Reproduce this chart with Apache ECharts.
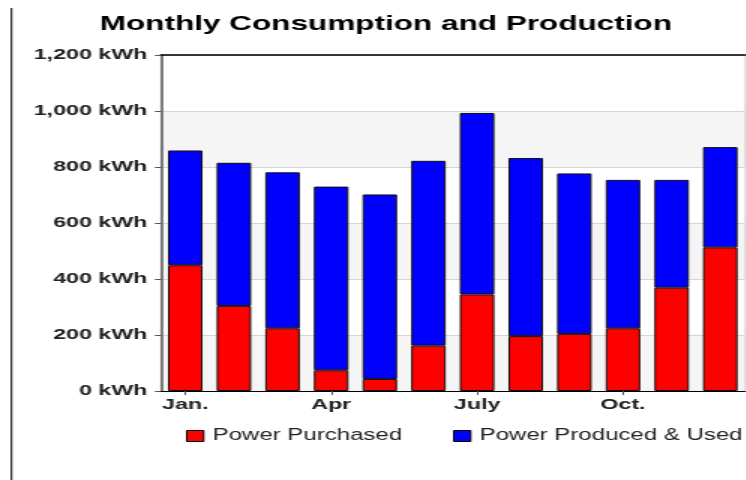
<!DOCTYPE html>
<html>
<head>
<meta charset="utf-8">
<script src="https://cdn.jsdelivr.net/npm/echarts@6/dist/echarts.min.js"></script>
<style>
html,body{margin:0;padding:0;background:#fff;overflow:hidden;}
#chart{width:497.33px;height:480px;transform:scaleX(1.5);transform-origin:0 0;}
</style>
</head>
<body>
<div id="chart"></div>
<script>
const months = ['Jan.','Feb','Mar','Apr','May','June','July','Aug','Sep','Oct.','Nov','Dec'];
const powerPurchased = [449, 304, 224, 74, 43, 162, 345, 196, 204, 224, 369, 513];
const powerProducedUsed = [410, 511, 557, 656, 659, 660, 648, 636, 573, 530, 385, 358];
const yTicks = [0, 200, 400, 600, 800, 1000, 1200];
const seriesNames = ['Power Purchased', 'Power Produced & Used'];

const chart = echarts.init(document.getElementById('chart'));
const font = 'Liberation Sans, Arial, sans-serif';
const legendBase = {
  top: 428, padding: 0,
  itemWidth: 11.3, itemHeight: 11,
  icon: 'rect',
  textStyle: {fontFamily: font, fontSize: 16, color: '#222', padding: [0,0,0,1]},
  itemStyle: {borderColor: '#000', borderWidth: 1}
};
chart.setOption({
  animation: false,
  backgroundColor: '#fff',
  title: {
    text: 'Monthly Consumption and Production',
    left: 61.5, top: 9,
    textStyle: {fontFamily: font, fontSize: 21, fontWeight: 'bold', color: '#000'}
  },
  legend: [
    Object.assign({}, legendBase, {left: 124, data: [seriesNames[0]]}),
    Object.assign({}, legendBase, {left: 302, data: [seriesNames[1]]})
  ],
  grid: {
    left: 107.3, right: 0.6, top: 55, bottom: 89,
    show: true, borderColor: '#cccccc', borderWidth: 1, backgroundColor: 'transparent'
  },
  xAxis: [{
    type: 'category',
    data: months,
    axisLine: {lineStyle: {color: '#000', width: 1}},
    axisTick: {show: true, interval: 2, alignWithLabel: true, length: 4, lineStyle: {color: '#555'}},
    axisLabel: {interval: 2, margin: 6, fontFamily: font, fontSize: 15.5, fontWeight: 'bold', color: '#222'}
  }, {
    type: 'category',
    position: 'top',
    data: months,
    axisLine: {show: true, lineStyle: {color: '#000', width: 1.5}},
    axisTick: {show: false},
    axisLabel: {show: false}
  }],
  yAxis: {
    type: 'value',
    min: 0, max: 1200, interval: 200,
    axisLine: {show: true, lineStyle: {color: '#555', width: 1.5}},
    axisTick: {show: true, length: 4, lineStyle: {color: '#555'}},
    axisLabel: {
      margin: 9, fontFamily: font, fontSize: 15.5, fontWeight: 'bold', color: '#222',
      formatter: v => yTicks.includes(v) ? v.toLocaleString('en-US') + ' kWh' : ''
    },
    splitLine: {show: true, lineStyle: {color: '#d6d6d6', width: 1}},
    splitArea: {show: true, areaStyle: {color: ['#f5f5f5', '#ffffff']}}
  },
  series: [{
    name: seriesNames[0],
    type: 'bar',
    stack: 'total',
    barCategoryGap: '29%',
    data: powerPurchased,
    itemStyle: {color: '#ff0000', borderColor: '#111', borderWidth: 1}
  }, {
    name: seriesNames[1],
    type: 'bar',
    stack: 'total',
    barCategoryGap: '29%',
    data: powerProducedUsed,
    itemStyle: {color: '#0000ff', borderColor: '#111', borderWidth: 1}
  }],
  graphic: [{
    type: 'line',
    shape: {x1: 7.7, y1: 8, x2: 7.7, y2: 480},
    style: {stroke: '#000', lineWidth: 1}
  }]
});
</script>
</body>
</html>
